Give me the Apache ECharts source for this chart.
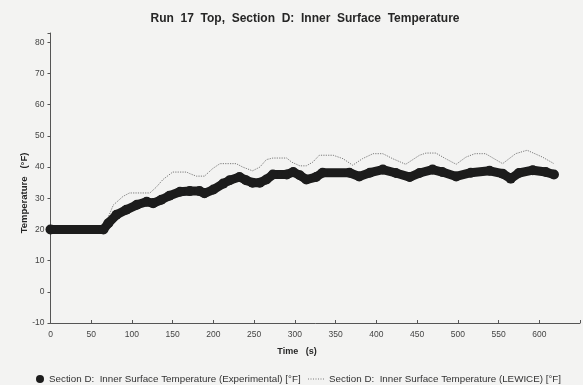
<!DOCTYPE html>
<html>
<head>
<meta charset="utf-8">
<script src="https://cdn.jsdelivr.net/npm/echarts@6/dist/echarts.min.js"></script>
<style>
  html, body { margin: 0; padding: 0; background: #f3f3f2; }
  #chart { width: 583px; height: 385px; }
</style>
</head>
<body>
<div id="chart"></div>
<script>
// Section D inner surface temperature, Run 17 top
const titleText = 'Run  17  Top,  Section  D:  Inner  Surface  Temperature';
const expName = 'Section D:  Inner Surface Temperature (Experimental) [\u00B0F]';
const lewName = 'Section D:  Inner Surface Temperature (LEWICE) [\u00B0F]';

// Experimental measurements: time [s] and temperature [°F]
const expTime = [0, 65, 71, 81, 93, 106, 118, 126, 136, 146, 159, 171, 183, 189, 200, 212,
  220, 232, 240, 248, 257, 265, 273, 290, 298, 306, 314, 326, 334, 367, 379, 392, 408,
  424, 441, 453, 469, 481, 498, 516, 539, 555, 565, 575, 592, 608, 618];
const expTemp = [20, 20, 22, 24.7, 26.3, 27.9, 28.9, 28.4, 29.5, 30.8, 32.1, 32.3, 32.3, 31.6, 32.8, 34.7,
  35.8, 36.8, 35.8, 35.0, 35.0, 36.0, 37.6, 37.6, 38.4, 37.4, 36.0, 36.8, 38.2, 38.2, 37.0, 38.2, 39.2,
  38.1, 36.8, 38.1, 39.2, 38.4, 37.0, 38.2, 38.8, 37.9, 36.3, 38.1, 39.0, 38.4, 37.6];

// LEWICE prediction: time [s] and temperature [°F]
const lewTime = [0, 65, 71, 77, 89, 97, 122, 130, 138, 150, 167, 171, 179, 189, 199, 208, 228,
  236, 248, 257, 265, 273, 290, 296, 306, 314, 322, 330, 347, 359, 371, 383, 396, 408, 420,
  436, 453, 461, 473, 485, 498, 510, 521, 534, 555, 571, 585, 604, 618];
const lewTemp = [20, 20, 24.0, 27.8, 30.6, 31.7, 31.7, 33.6, 36.0, 38.4, 38.4, 37.9, 37.1, 37.1, 39.5, 41.1, 41.1,
  40.0, 38.8, 40.0, 42.4, 42.9, 42.9, 41.6, 40.4, 40.4, 41.6, 43.8, 43.8, 42.7, 40.6, 42.7, 44.3, 44.3, 42.7,
  40.9, 43.8, 44.5, 44.5, 42.7, 40.9, 43.2, 44.3, 44.3, 41.1, 44.3, 45.4, 43.2, 41.1];

// Axis ticks
const xTicks = { min: 0, max: 650, step: 50, lastLabel: 600 };
const yTicks = { min: -10, max: 83, step: 10, lastLabel: 80 };

const pair = (xs, ys) => xs.map((x, i) => [x, ys[i]]);

const font = '"Liberation Sans", Arial, sans-serif';
const ink = '#262626';
const axisColor = '#555';
const lewColor = '#7a7a7a';

// dotted legend key for the LEWICE curve
const dottedKey = 'path://' + [0, 2.5, 5, 7.5, 10, 12.5, 15]
  .map(x => `M${x},0h1v1h-1z`).join('');

const chart = echarts.init(document.getElementById('chart'), null, { renderer: 'canvas' });
chart.setOption({
  backgroundColor: '#f3f3f2',
  animation: false,
  title: {
    text: titleText,
    left: 300, top: 8, textAlign: 'center',
    textStyle: { fontFamily: font, fontSize: 12, fontWeight: 'bold', color: ink }
  },
  grid: { left: 50.5, right: 3, top: 33, bottom: 62, containLabel: false },
  xAxis: {
    type: 'value', min: xTicks.min, max: xTicks.max, interval: xTicks.step,
    axisLine: { show: true, onZero: false, lineStyle: { color: axisColor, width: 1 } },
    axisTick: { show: true, inside: true, length: 3, lineStyle: { color: axisColor } },
    splitLine: { show: false },
    axisLabel: {
      margin: 7, fontFamily: font, fontSize: 8.5, color: '#444',
      formatter: v => (v <= xTicks.lastLabel && v % xTicks.step === 0) ? String(v) : ''
    }
  },
  yAxis: {
    type: 'value', min: yTicks.min, max: yTicks.max, interval: yTicks.step,
    axisLine: { show: true, onZero: false, lineStyle: { color: axisColor, width: 1 } },
    axisTick: { show: true, length: 3, lineStyle: { color: axisColor } },
    splitLine: { show: false },
    axisLabel: {
      margin: 6, fontFamily: font, fontSize: 8.5, color: '#444',
      formatter: v => (v <= yTicks.lastLabel && v % yTicks.step === 0) ? String(v) : ''
    }
  },
  legend: [
    {
      data: [{ name: expName, icon: 'circle' }],
      left: 31, top: 369, itemWidth: 8, itemHeight: 8,
      textStyle: { fontFamily: font, fontSize: 9.8, color: '#333' }
    },
    {
      data: [{ name: lewName, icon: dottedKey }],
      left: 303, top: 369, itemWidth: 16, itemHeight: 1,
      itemStyle: { color: lewColor },
      textStyle: { fontFamily: font, fontSize: 9.8, color: '#333' }
    }
  ],
  graphic: [
    {
      type: 'text', x: 24, y: 193, rotation: Math.PI / 2,
      style: {
        text: 'Temperature   (\u00B0F)', fontFamily: font, fontSize: 9.5, fontWeight: 'bold',
        fill: ink, align: 'center', verticalAlign: 'middle'
      }
    },
    {
      type: 'text', x: 297, y: 352,
      style: {
        text: 'Time   (s)', fontFamily: font, fontSize: 9, fontWeight: 'bold',
        fill: ink, align: 'center', verticalAlign: 'middle'
      }
    }
  ],
  series: [
    {
      name: lewName, type: 'line', data: pair(lewTime, lewTemp),
      symbol: 'none', z: 2,
      itemStyle: { color: lewColor },
      lineStyle: { color: lewColor, width: 1, type: [1.2, 1.2] }
    },
    {
      name: expName, type: 'line', data: pair(expTime, expTemp),
      symbol: 'circle', symbolSize: 10, showAllSymbol: true, z: 3,
      itemStyle: { color: '#1c1c1c' },
      lineStyle: { color: '#1c1c1c', width: 9, cap: 'round', join: 'round' }
    }
  ]
});
</script>
</body>
</html>
